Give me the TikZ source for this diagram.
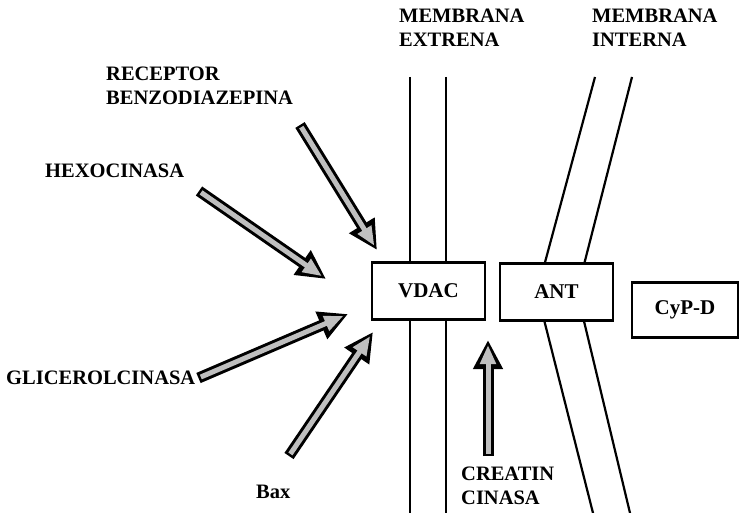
\documentclass[tikz,border=0pt]{standalone}
\usepackage{fontspec}
\setmainfont{Liberation Serif}
\usetikzlibrary{arrows.meta}

\begin{document}
\begin{tikzpicture}[x=1pt,y=-1pt,
  lbl/.style={font=\fontsize{20.5}{24}\selectfont\bfseries,align=left,
    anchor=base west,inner sep=0pt},
  comp/.style={draw,line width=2.2pt,fill=white,font=\fontsize{21}{24}\selectfont\bfseries,
    minimum height=57pt},
  memb/.style={line width=2.2pt},
  blockarr/.style={line width=11pt,-{Triangle[length=29pt,width=28pt]},
    postaction={draw=gray!50,line width=5pt,-{Triangle[length=19pt,width=15pt]},
      shorten >=5pt,shorten <=2.5pt}}
]
  \useasboundingbox (0,0) rectangle (739,513);

  % Membranes
  \draw[memb] (410,77) -- (410,513);
  \draw[memb] (446,77) -- (446,513);
  \draw[memb] (595,77) -- (537,292) -- (593,513);
  \draw[memb] (632,77) -- (577,292) -- (630,513);
  \node[lbl] (membext) at (399,47) {MEMBRANA\\EXTRENA};
  \node[lbl] (membint) at (592,47) {MEMBRANA\\INTERNA};

  % Complex
  \node[comp,minimum width=113pt] (vdac) at (428.5,291) {VDAC};
  \node[comp,minimum width=113pt] (ant) at (556.5,292) {ANT};
  \node[comp,minimum width=106pt,minimum height=55pt] (cyp) at (685,310) {CyP-D};

  % Ligands
  \node[lbl] (receptor) at (106,105) {RECEPTOR\\BENZODIAZEPINA};
  \node[lbl] (hexo) at (45,178) {HEXOCINASA};
  \node[lbl] (glicerol) at (6,384) {GLICEROLCINASA};
  \node[lbl] (bax) at (256,498) {Bax};
  \node[lbl] (creatin) at (461,504) {CREATIN\\CINASA};

  \coordinate (receptorTail) at (300,125);
  \coordinate (receptorTip) at (377,250);
  \coordinate (hexoTail) at (199,191);
  \coordinate (hexoTip) at (326,279);
  \coordinate (glicerolTip) at (348,314);
  \coordinate (baxTail) at (289,456);
  \coordinate (baxTip) at (373,332);
  \coordinate (creatinTail) at (488,456);
  \coordinate (creatinTip) at (488,340);

  % Arrows
  \draw[blockarr] (receptorTail) -- (receptorTip);
  \draw[blockarr] (hexoTail) -- (hexoTip);
  \draw[blockarr] (glicerol.base east) ++(3,-6) -- (glicerolTip);
  \draw[blockarr] (baxTail) -- (baxTip);
  \draw[blockarr] (creatinTail) -- (creatinTip);
\end{tikzpicture}
\end{document}
